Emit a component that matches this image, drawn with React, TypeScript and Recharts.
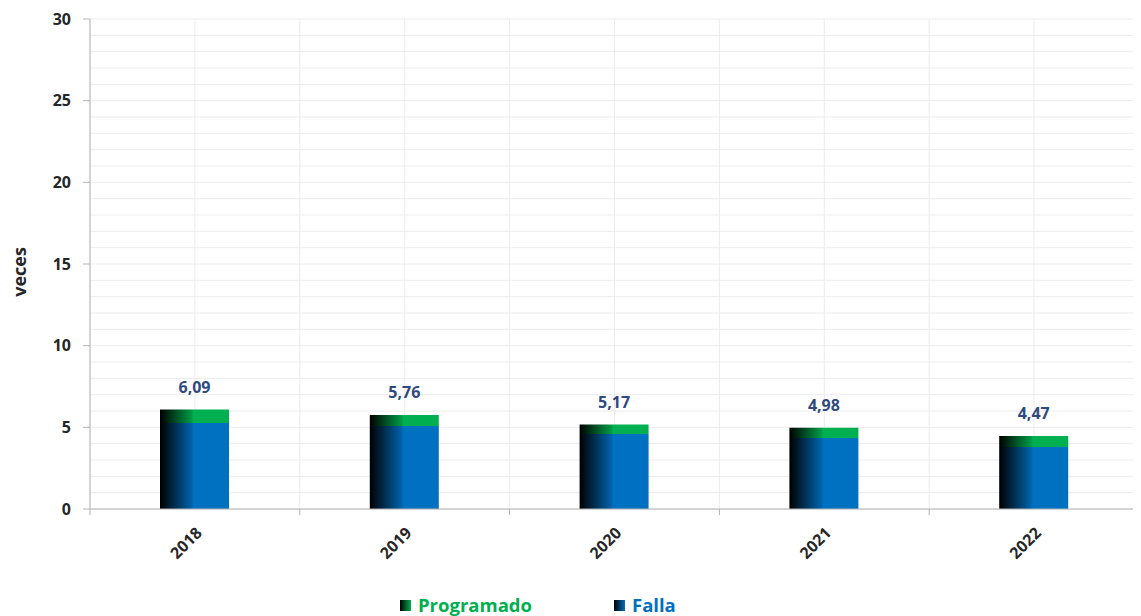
import { Bar, BarChart, CartesianGrid, LabelList, XAxis, YAxis } from 'recharts';

const years = ['2018', '2019', '2020', '2021', '2022'];
const falla = [5.27, 5.08, 4.59, 4.35, 3.8];
const programado = [0.82, 0.68, 0.58, 0.63, 0.67];
const yTicks = [0, 5, 10, 15, 20, 25, 30];

const W = 1133;
const H = 608;
const MARGIN = { top: 11, right: 2, bottom: 0, left: 0 };
const Y_AXIS_W = 82;
const X_AXIS_H = 107;
const PLOT_W = W - MARGIN.left - MARGIN.right - Y_AXIS_W;
const BAND = PLOT_W / years.length;

const FONT = '"Open Sans", sans-serif';
const AXIS_GRAY = '#b3b3b3';
const GREEN = '#00B050';
const BLUE = '#0070C0';

const data = years.map((year, i) => ({ year, falla: falla[i], programado: programado[i] }));
const minorLines = Array.from({ length: 31 }, (_, i) => i);

const fmt = (v: number) => v.toFixed(2).replace('.', ',');

function XTick({ x, y, payload, index }: any) {
  const last = index === years.length - 1;
  return (
    <g>
      <line x1={x - BAND / 2} x2={x - BAND / 2} y1={y} y2={y + 6} stroke={AXIS_GRAY} />
      {last && <line x1={x + BAND / 2} x2={x + BAND / 2} y1={y} y2={y + 6} stroke={AXIS_GRAY} />}
      <text
        x={x + 8}
        y={y + 25}
        textAnchor="end"
        transform={`rotate(-45, ${x + 8}, ${y + 25})`}
        fontSize={16}
        fontWeight={700}
        fill="#262626"
      >
        {payload.value}
      </text>
    </g>
  );
}

function TotalLabel({ x, y, width, index }: any) {
  return (
    <text x={x + width / 2} y={y - 17} textAnchor="middle" fontSize={16} fontWeight={700} fill="#2F4A7F">
      {fmt(falla[index] + programado[index])}
    </text>
  );
}

function YTitle({ viewBox }: any) {
  const cy = viewBox.y + viewBox.height / 2 + 8;
  return (
    <text
      x={11}
      y={cy}
      textAnchor="middle"
      dominantBaseline="central"
      transform={`rotate(-90, 11, ${cy})`}
      fontSize={18}
      fontWeight={700}
      fill="#262626"
    >
      veces
    </text>
  );
}

function LegendItem({ label, color, gradient }: { label: string; color: string; gradient: string }) {
  return (
    <div style={{ display: 'flex', alignItems: 'center' }}>
      <span style={{ width: 11, height: 11, background: gradient, marginRight: 7, display: 'inline-block' }} />
      <span style={{ color, fontWeight: 700, fontSize: 18.5 }}>{label}</span>
    </div>
  );
}

export default function App() {
  return (
    <div style={{ position: 'relative', width: W, height: H, fontFamily: FONT }}>
      <BarChart width={W} height={H} data={data} margin={MARGIN}>
        <defs>
          <linearGradient id="gFalla" x1="0" y1="0" x2="1" y2="0">
            <stop offset="0%" stopColor="#000000" />
            <stop offset="46%" stopColor="#0062aa" />
            <stop offset="49%" stopColor={BLUE} />
            <stop offset="100%" stopColor={BLUE} />
          </linearGradient>
          <linearGradient id="gProg" x1="0" y1="0" x2="1" y2="0">
            <stop offset="0%" stopColor="#000000" />
            <stop offset="46%" stopColor="#009a45" />
            <stop offset="49%" stopColor={GREEN} />
            <stop offset="100%" stopColor={GREEN} />
          </linearGradient>
        </defs>
        <CartesianGrid
          stroke="#ececec"
          horizontalValues={minorLines}
          verticalCoordinatesGenerator={({ offset }: any) =>
            Array.from({ length: years.length * 2 + 1 }, (_, i) => offset.left + (offset.width * i) / (years.length * 2))
          }
        />
        <XAxis
          dataKey="year"
          height={X_AXIS_H}
          stroke={AXIS_GRAY}
          tickLine={false}
          tickSize={0}
          tickMargin={0}
          interval={0}
          tick={<XTick />}
        />
        <YAxis
          width={Y_AXIS_W}
          domain={[0, 30]}
          ticks={yTicks}
          interval={0}
          stroke={AXIS_GRAY}
          tickSize={7}
          tickMargin={12}
          tick={{ fill: '#262626', fontSize: 16, fontWeight: 700 }}
          label={<YTitle />}
        />
        <Bar dataKey="falla" stackId="s" barSize={69} fill="url(#gFalla)" isAnimationActive={false} />
        <Bar dataKey="programado" stackId="s" barSize={69} fill="url(#gProg)" isAnimationActive={false}>
          <LabelList content={<TotalLabel />} />
        </Bar>
      </BarChart>
      <div style={{ position: 'absolute', left: 392, top: 588, display: 'flex', gap: 82, lineHeight: 1 }}>
        <LegendItem label="Programado" color={GREEN} gradient={`linear-gradient(to right, #000, ${GREEN})`} />
        <LegendItem label="Falla" color={BLUE} gradient={`linear-gradient(to right, #000, ${BLUE})`} />
      </div>
    </div>
  );
}
